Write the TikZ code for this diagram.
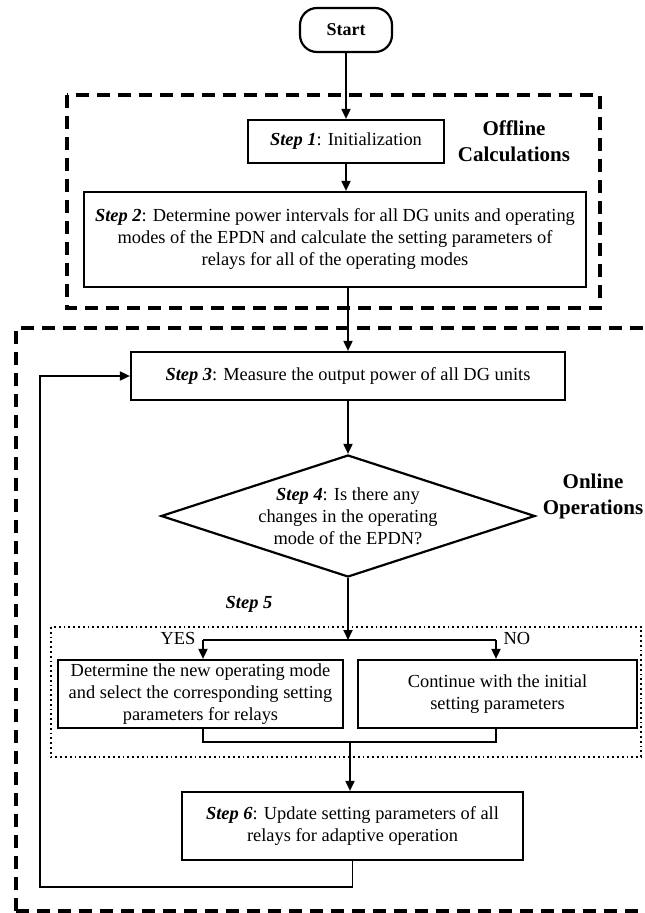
\documentclass[tikz,border=0pt]{standalone}
\usepackage{fontspec}
\setmainfont{Liberation Serif}
\usetikzlibrary{shapes.geometric,arrows.meta}
\newcommand{\stp}[1]{\textbf{\textit{#1}}}
\begin{document}
\begin{tikzpicture}[x=1pt,y=-1pt,
  every node/.style={font=\fontsize{18.4}{22}\selectfont},
  box/.style={draw, line width=2.2pt, inner sep=0pt, align=center},
  conn/.style={line width=1.8pt},
  arr/.style={conn, -{Triangle[length=10pt,width=9pt]}},
  region/.style={line width=3.2pt, dash pattern=on 13pt off 8pt},
  dots/.style={line width=1.8pt, dash pattern=on 1.8pt off 3pt},
  lbl/.style={font=\fontsize{21}{26}\selectfont\bfseries, align=center}]
\useasboundingbox (0,0) rectangle (645,913);
% regions
\draw[region] (67,95) rectangle (600,308);
\draw[region] (16,911) -- (16,328) -- (660,328);
\draw[region] (16,911) -- (660,911);
\draw[dots] (51,627) rectangle (641,757);
% nodes
\node[box, rounded corners=17pt, minimum width=92, minimum height=44, font=\fontsize{18}{22}\selectfont\bfseries] (start) at (346,30) {Start};
\node[box, minimum width=196, minimum height=43] (s1) at (346,141.5) {\stp{Step 1}: Initialization};
\node[box, minimum width=502, minimum height=95] (s2) at (335,239.5) {\stp{Step 2}: Determine power intervals for all DG units and operating\\modes of the EPDN and calculate the setting parameters of\\relays for all of the operating modes};
\node[box, minimum width=434, minimum height=48] (s3) at (348,376) {\stp{Step 3}: Measure the output power of all DG units};
\node[box, shape=diamond, aspect=3.06, minimum width=374, minimum height=122] (s4) at (348,516) {};
\node[align=center] at (s4) {\stp{Step 4}: Is there any\\changes in the operating\\mode of the EPDN?};
\node[box, minimum width=285, minimum height=68] (yes) at (200.5,694) {Determine the new operating mode\\and select the corresponding setting\\parameters for relays};
\node[box, minimum width=279, minimum height=68] (no) at (497.5,694) {Continue with the initial\\setting parameters};
\node[box, minimum width=341, minimum height=68] (s6) at (352.5,826) {\stp{Step 6}: Update setting parameters of all\\relays for adaptive operation};
% labels
\node[lbl] (off) at (514,141) {Offline\\Calculations};
\node[lbl] (on) at (593,496) {Online\\Operations};
\node (s5) at (249,604) {\stp{Step 5}};
\node[anchor=east] (ylab) at (199,638) {YES};
\node[anchor=west] (nlab) at (500,638) {NO};
% coordinates
\coordinate (j) at (348,640);
\coordinate (jl) at (203,640);
\coordinate (jr) at (496,640);
\coordinate (ml) at (203,742);
\coordinate (mr) at (496,742);
\coordinate (m) at (350,742);
\coordinate (rb) at (352.5,887);
\coordinate (rl) at (40,887);
\coordinate (rt) at (40,376);
% connectors
\draw[arr] (start) -- (s1);
\draw[arr] (s1) -- (s2.north -| s1);
\draw[arr] (s2.south -| s3) -- (s3);
\draw[arr] (s3) -- (s4);
\draw[arr] (s4) -- (j);
\draw[conn] (jl) -- (jr);
\draw[arr] (jl) -- (yes.north -| jl);
\draw[arr] (jr) -- (no.north -| jr);
\draw[conn] (yes.south -| ml) -- (ml) -- (mr) -- (no.south -| mr);
\draw[arr] (m) -- (s6.north -| m);
\draw[arr] (s6.south) -- (rb) -- (rl) -- (rt) -- (s3.west);
\end{tikzpicture}
\end{document}
